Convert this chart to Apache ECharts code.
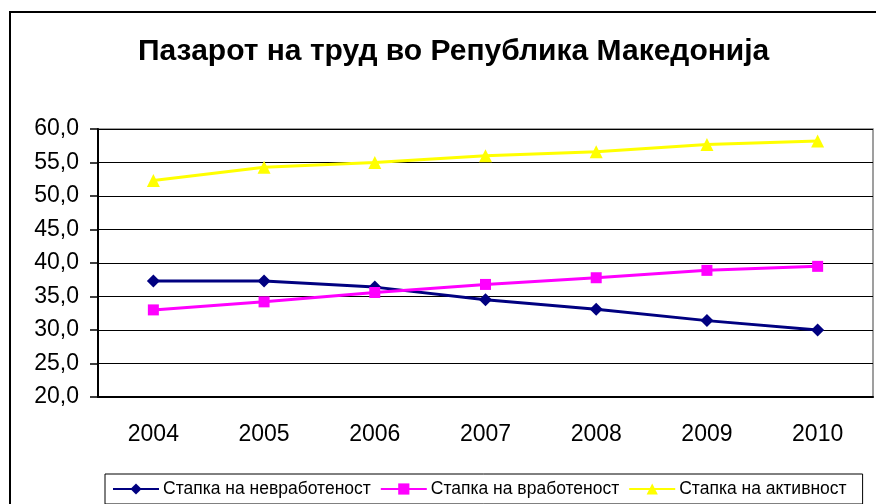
<!DOCTYPE html>
<html>
<head>
<meta charset="utf-8">
<script src="https://cdn.jsdelivr.net/npm/echarts@6/dist/echarts.min.js"></script>
<style>
  html, body { margin: 0; padding: 0; background: #fff; }
  #main { width: 876px; height: 504px; }
</style>
</head>
<body>
<div id="main"></div>
<script>
  // податоци прочитани од графикот
  var years = ['2004', '2005', '2006', '2007', '2008', '2009', '2010'];
  var seriesNames = ['Стапка на невработеност', 'Стапка на вработеност', 'Стапка на активност'];
  var unemployment = [37.3, 37.3, 36.4, 34.5, 33.1, 31.4, 30.0];
  var employment = [33.0, 34.2, 35.6, 36.8, 37.8, 38.9, 39.5];
  var activity = [52.3, 54.3, 55.0, 56.0, 56.6, 57.7, 58.2];

  var myChart = echarts.init(document.getElementById('main'));
  var font = 'Arial, "Liberation Sans", sans-serif';

  var option = {
    animation: false,
    textStyle: { fontFamily: font },
    title: {
      text: 'Пазарот на труд во Република Македонија',
      left: 133,
      top: 32,
      textStyle: { fontSize: 30, fontWeight: 'bold', color: '#000', fontFamily: font }
    },
    // надворешна рамка
    graphic: [{
      type: 'rect',
      shape: { x: 10, y: 12, width: 900, height: 560 },
      style: { fill: 'none', stroke: '#000', lineWidth: 2 },
      silent: true
    }],
    legend: {
      data: seriesNames,
      left: 105,
      top: 474,
      padding: [6, 16, 6, 7],
      itemGap: 9,
      itemWidth: 46,
      itemHeight: 14,
      borderColor: '#000',
      borderWidth: 1,
      textStyle: { fontSize: 17.5, color: '#000', padding: [0, 0, 0, -1] }
    },
    grid: {
      left: 98,
      right: 3,
      top: 129,
      bottom: 107,
      show: true,
      borderColor: '#808080',
      borderWidth: 1.5
    },
    xAxis: {
      type: 'category',
      data: years,
      boundaryGap: true,
      axisLine: { lineStyle: { color: '#000', width: 2 } },
      axisTick: { length: 7, lineStyle: { color: '#000', width: 1.5 } },
      axisLabel: { fontSize: 23, color: '#000', margin: 26 }
    },
    yAxis: {
      type: 'value',
      min: 20,
      max: 60,
      interval: 5,
      axisLine: { show: true, lineStyle: { color: '#000', width: 2 } },
      axisTick: { show: true, length: 8, lineStyle: { color: '#000', width: 1.5 } },
      axisLabel: {
        fontSize: 23,
        color: '#000',
        margin: 19,
        formatter: function (v) { return v.toFixed(1).replace('.', ','); }
      },
      splitLine: { lineStyle: { color: '#000', width: 1.2 } }
    },
    series: [
      {
        name: seriesNames[0],
        type: 'line',
        data: unemployment,
        color: '#000080',
        symbol: 'diamond',
        symbolSize: 13,
        lineStyle: { width: 3 }
      },
      {
        name: seriesNames[1],
        type: 'line',
        data: employment,
        color: '#FF00FF',
        symbol: 'rect',
        symbolSize: 11,
        lineStyle: { width: 3 }
      },
      {
        name: seriesNames[2],
        type: 'line',
        data: activity,
        color: '#FFFF00',
        symbol: 'triangle',
        symbolSize: 13,
        lineStyle: { width: 3 }
      }
    ]
  };
  myChart.setOption(option);
</script>
</body>
</html>
